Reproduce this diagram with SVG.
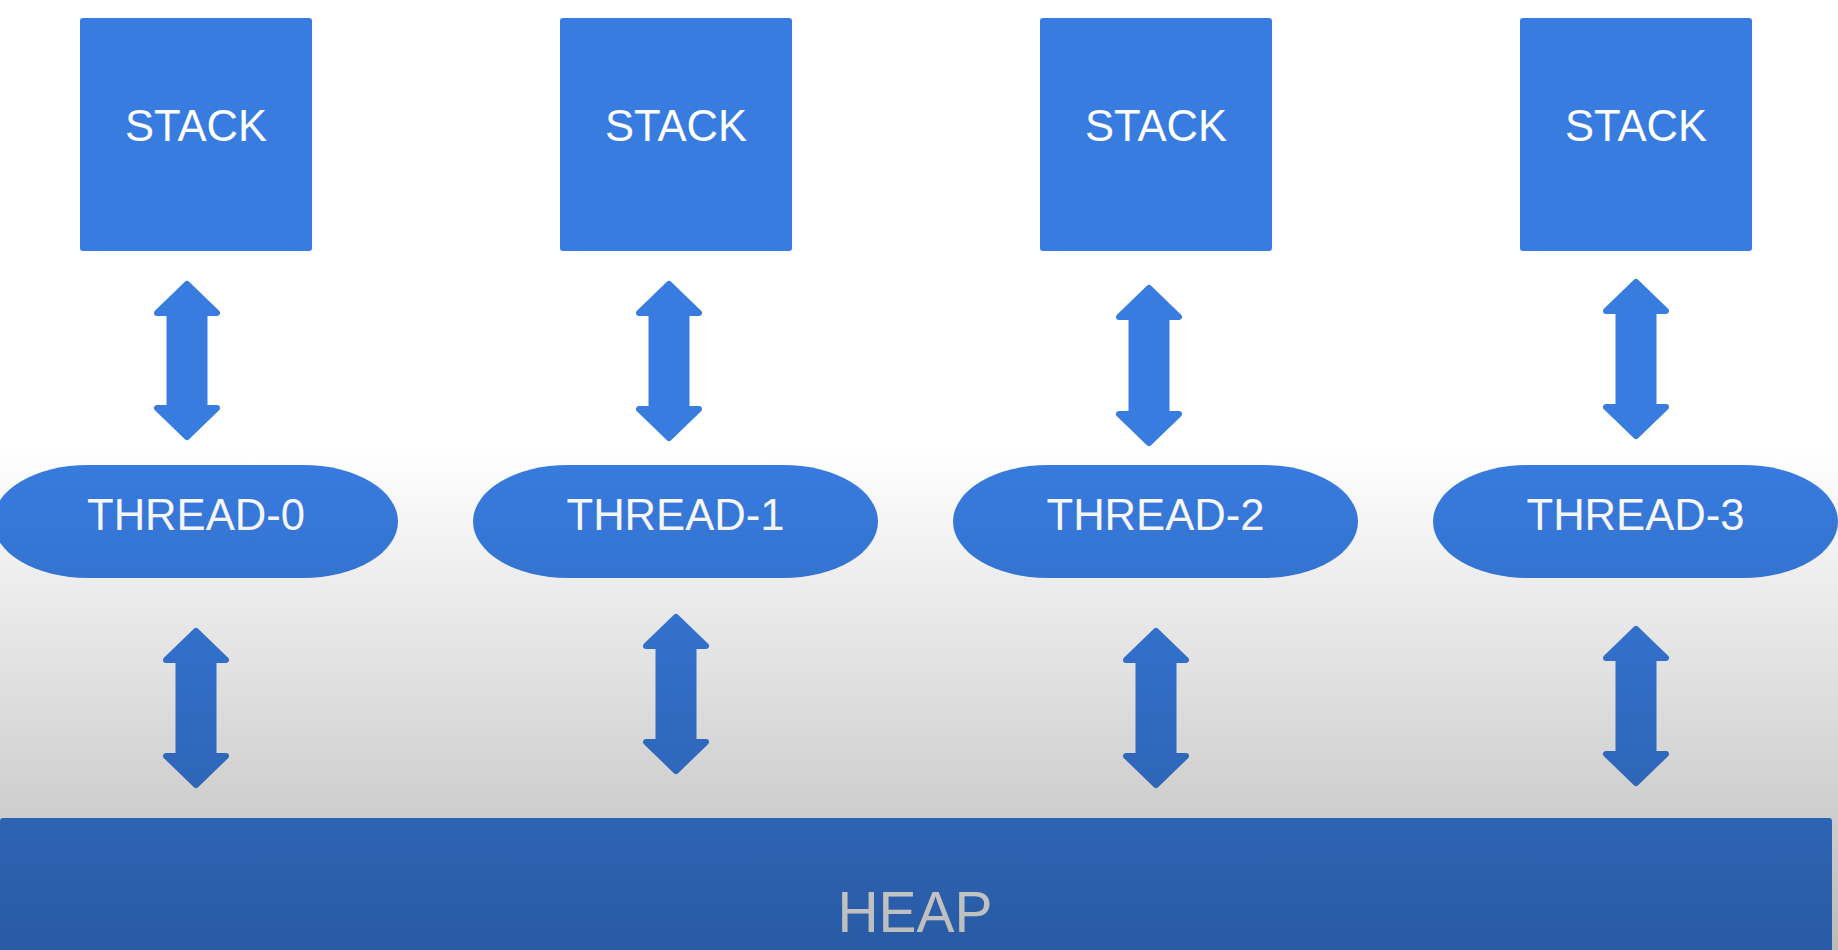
<svg xmlns="http://www.w3.org/2000/svg" width="1838" height="950" viewBox="0 0 1838 950">
  <style>
    .stack { fill: #387ce0; }
    .thread { fill: #387ce0; }
    .heap { fill: #387ce0; }
    .arrow { fill: #387ce0; stroke: #387ce0; stroke-width: 6; stroke-linejoin: round; }
    .lbl { font-family: "Liberation Sans", Arial, sans-serif; fill: #ffffff; text-anchor: middle; }
    .stk { font-size: 44px; }
    .thr { font-size: 44px; }
    .hp { font-size: 58px; }
  </style>
  <defs>
    <linearGradient id="shade" x1="0" y1="0" x2="0" y2="950" gradientUnits="userSpaceOnUse">
      <stop offset="0.47" stop-color="#000" stop-opacity="0"/>
      <stop offset="0.861" stop-color="#000" stop-opacity="0.196"/>
      <stop offset="1" stop-color="#000" stop-opacity="0.27"/>
    </linearGradient>
  </defs>
  <rect x="0" y="0" width="1838" height="950" fill="#ffffff"/>

  <g id="connectors">
    <path class="arrow" d="M187,284 L217,313 L204.5,313 L204.5,408 L217,408 L187,437 L157,408 L169.5,408 L169.5,313 L157,313 Z"/>
    <path class="arrow" d="M669,284 L699,313 L686.5,313 L686.5,409 L699,409 L669,438 L639,409 L651.5,409 L651.5,313 L639,313 Z"/>
    <path class="arrow" d="M1149,288 L1179,317 L1166.5,317 L1166.5,414 L1179,414 L1149,443 L1119,414 L1131.5,414 L1131.5,317 L1119,317 Z"/>
    <path class="arrow" d="M1636,282 L1666,311 L1653.5,311 L1653.5,407 L1666,407 L1636,436 L1606,407 L1618.5,407 L1618.5,311 L1606,311 Z"/>
    <path class="arrow" d="M196,631 L226,660 L213.5,660 L213.5,756 L226,756 L196,785 L166,756 L178.5,756 L178.5,660 L166,660 Z"/>
    <path class="arrow" d="M676,617 L706,646 L693.5,646 L693.5,742 L706,742 L676,771 L646,742 L658.5,742 L658.5,646 L646,646 Z"/>
    <path class="arrow" d="M1156,631 L1186,660 L1173.5,660 L1173.5,756 L1186,756 L1156,785 L1126,756 L1138.5,756 L1138.5,660 L1126,660 Z"/>
    <path class="arrow" d="M1636,629 L1666,658 L1653.5,658 L1653.5,754 L1666,754 L1636,783 L1606,754 L1618.5,754 L1618.5,658 L1606,658 Z"/>
  </g>

  <g id="stack-0"><rect class="stack" x="80" y="18" width="232" height="233" rx="3"/><text class="lbl stk" x="196" y="141" textLength="142" lengthAdjust="spacingAndGlyphs">STACK</text></g>
  <g id="stack-1"><rect class="stack" x="560" y="18" width="232" height="233" rx="3"/><text class="lbl stk" x="676" y="141" textLength="142" lengthAdjust="spacingAndGlyphs">STACK</text></g>
  <g id="stack-2"><rect class="stack" x="1040" y="18" width="232" height="233" rx="3"/><text class="lbl stk" x="1156" y="141" textLength="142" lengthAdjust="spacingAndGlyphs">STACK</text></g>
  <g id="stack-3"><rect class="stack" x="1520" y="18" width="232" height="233" rx="3"/><text class="lbl stk" x="1636" y="141" textLength="142" lengthAdjust="spacingAndGlyphs">STACK</text></g>

  <g id="thread-0"><rect class="thread" x="-7" y="465" width="405" height="113" rx="95" ry="56.5"/><text class="lbl thr" x="196" y="530" textLength="218" lengthAdjust="spacingAndGlyphs">THREAD-0</text></g>
  <g id="thread-1"><rect class="thread" x="473" y="465" width="405" height="113" rx="95" ry="56.5"/><text class="lbl thr" x="675.5" y="530" textLength="218" lengthAdjust="spacingAndGlyphs">THREAD-1</text></g>
  <g id="thread-2"><rect class="thread" x="953" y="465" width="405" height="113" rx="95" ry="56.5"/><text class="lbl thr" x="1155.5" y="530" textLength="218" lengthAdjust="spacingAndGlyphs">THREAD-2</text></g>
  <g id="thread-3"><rect class="thread" x="1433" y="465" width="405" height="113" rx="95" ry="56.5"/><text class="lbl thr" x="1635.5" y="530" textLength="218" lengthAdjust="spacingAndGlyphs">THREAD-3</text></g>

  <g id="heap"><rect class="heap" x="0" y="818" width="1832" height="160" rx="3"/><text class="lbl hp" x="915" y="932" textLength="155" lengthAdjust="spacingAndGlyphs">HEAP</text></g>

  <rect x="0" y="0" width="1838" height="950" fill="url(#shade)" pointer-events="none"/>
</svg>
